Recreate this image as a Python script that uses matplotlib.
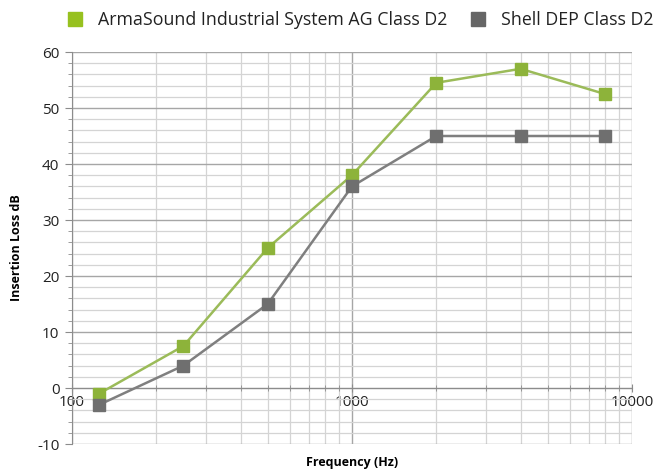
import numpy as np
import matplotlib.pyplot as plt
from matplotlib.ticker import FixedLocator, LogLocator, NullFormatter, FixedFormatter
from matplotlib.lines import Line2D

plt.rcParams['font.family'] = ['Open Sans', 'DejaVu Sans']
plt.rcParams['axes.unicode_minus'] = False

# data
freq = [125, 250, 500, 1000, 2000, 4000, 8000]
armasound = [-1, 7.5, 25, 38, 54.5, 57, 52.5]
shell_dep = [-3, 4, 15, 36, 45, 45, 45]
series_names = ['ArmaSound Industrial System AG Class D2', 'Shell DEP Class D2']
x_ticks = [100, 1000, 10000]
x_tick_labels = ['100', '1000', '10000']

green = '#9bbb59'
green_mk = '#8db33a'
grey = '#7f7f7f'
grey_mk = '#6f6f6f'

fig = plt.figure(figsize=(6.72, 4.72), dpi=100)
ax = fig.add_axes([72 / 672, 28 / 472, 560 / 672, 392 / 472])

ax.set_xscale('log')
ax.set_xlim(100, 10000)
ax.set_ylim(-10, 60)

# grid
ax.xaxis.set_major_locator(FixedLocator(x_ticks))
ax.xaxis.set_major_formatter(FixedFormatter(x_tick_labels))
ax.xaxis.set_minor_locator(LogLocator(base=10, subs=np.arange(2, 10)))
ax.xaxis.set_minor_formatter(NullFormatter())
ax.set_yticks(np.arange(-10, 61, 10))
ax.set_yticks(np.arange(-10, 61, 2), minor=True)
ax.grid(which='major', color='#a6a6a6', lw=1.0)
ax.grid(which='minor', color='#d4d4d4', lw=0.9)
ax.set_axisbelow(True)

for s in ['top', 'right']:
    ax.spines[s].set_visible(False)
ax.spines['left'].set_color('#8c8c8c')
ax.spines['bottom'].set_position(('data', 0))
ax.spines['bottom'].set_color('#8c8c8c')

ax.tick_params(axis='y', which='major', direction='out', length=5, color='#8c8c8c',
               labelsize=11, labelcolor='#222222', pad=4)
ax.tick_params(axis='y', which='minor', direction='out', length=3, color='#8c8c8c')
ax.tick_params(axis='x', which='major', direction='inout', length=6, color='#8c8c8c',
               labelsize=11, labelcolor='#222222', pad=2)
ax.tick_params(axis='x', which='minor', direction='inout', length=4, color='#8c8c8c')

ax.plot(freq, armasound, color=green, lw=1.8, marker='s', ms=8,
        mfc=green_mk, mec=green_mk, clip_on=False, zorder=3)
ax.plot(freq, shell_dep, color=grey, lw=1.8, marker='s', ms=8,
        mfc=grey_mk, mec=grey_mk, clip_on=False, zorder=3)

ax.set_ylabel('Insertion Loss dB', fontsize=9, fontweight='bold', labelpad=10)
ax.set_xlabel('Frequency (Hz)', fontsize=9, fontweight='bold', labelpad=33)

handles = [Line2D([], [], ls='none', marker='s', ms=10, mfc='#97c11f', mec='#97c11f'),
           Line2D([], [], ls='none', marker='s', ms=10, mfc='#666666', mec='#666666')]
fig.legend(handles, series_names, loc='upper center', bbox_to_anchor=(0.537, 1.01),
           ncol=2, frameon=False, fontsize=12.8, handlelength=0.8, handletextpad=0.9,
           columnspacing=1.3, labelcolor='#222222')

fig.savefig('out.png', dpi=100)
